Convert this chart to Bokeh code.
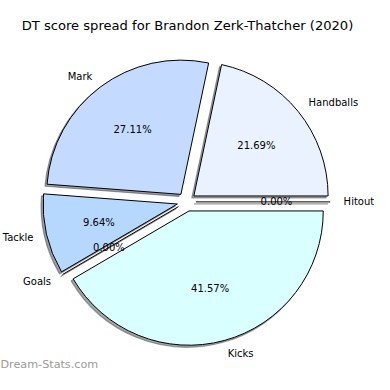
import numpy as np
from bokeh.plotting import figure
from bokeh.models import ColumnDataSource, Range1d
from bokeh.embed import file_html
from bokeh.resources import INLINE
from bokeh.core.properties import value

# ---- data ----
categories = ["Handballs", "Mark", "Tackle", "Goals", "Kicks", "Hitout"]
dt_points = [36, 45, 16, 0, 69, 0]
colors = ["#EBF2FF", "#C4DAFF", "#B6D8FF", "#C8E6FF", "#DAFFFF", "#E0E8FF"]
title_text = "DT score spread for Brandon Zerk-Thatcher (2020)"
watermark_text = "Dream-Stats.com"

# ---- style / layout constants ----
EXPLODE = 0.07
LABEL_R = 1.1
PCT_R = 0.6
SHADOW = 0.015
FONT = "DejaVu Sans"

vals = np.array(dt_points, dtype=float)
frac = vals / vals.sum()
ends = np.cumsum(frac) * 2 * np.pi
starts = ends - frac * 2 * np.pi
mids = (starts + ends) / 2
cx = EXPLODE * np.cos(mids)
cy = EXPLODE * np.sin(mids)


def shade(c):
    c = c.lstrip("#")
    r, g, b = (int(c[i:i + 2], 16) for i in (0, 2, 4))
    return "#%02x%02x%02x" % (int(r * 0.3), int(g * 0.3), int(b * 0.3))


shadow_colors = [shade(c) for c in colors]
nz = vals > 0
z = ~nz

p = figure(width=374, height=374, output_backend="svg", toolbar_location=None,
           x_range=Range1d(-194 / 140, 196 / 140), y_range=Range1d(-180 / 140, 210 / 140),
           min_border=0, outline_line_color=None,
           x_axis_location=None, y_axis_location=None)
p.grid.visible = False
p.background_fill_color = "white"
p.border_fill_color = "white"

# shadows
sh = ColumnDataSource(dict(x=cx[nz] - SHADOW, y=cy[nz] - SHADOW, s=starts[nz], e=ends[nz],
                           c=[shadow_colors[i] for i in np.where(nz)[0]]))
p.wedge(x="x", y="y", radius=1.0, start_angle="s", end_angle="e", source=sh,
        fill_color="c", fill_alpha=0.5, line_color="c", line_alpha=0.5, line_width=1.2)
shz = ColumnDataSource(dict(x0=cx[z] - SHADOW, y0=cy[z] - SHADOW,
                            x1=cx[z] - SHADOW + np.cos(starts[z]), y1=cy[z] - SHADOW + np.sin(starts[z])))
p.segment(x0="x0", y0="y0", x1="x1", y1="y1", source=shz, line_color="black", line_alpha=0.5, line_width=1)

# wedges
ws = ColumnDataSource(dict(x=cx[nz], y=cy[nz], s=starts[nz], e=ends[nz],
                           c=[colors[i] for i in np.where(nz)[0]]))
p.wedge(x="x", y="y", radius=1.0, start_angle="s", end_angle="e", source=ws,
        fill_color="c", line_color="black", line_width=1)
wz = ColumnDataSource(dict(x0=cx[z], y0=cy[z], x1=cx[z] + np.cos(starts[z]), y1=cy[z] + np.sin(starts[z])))
p.segment(x0="x0", y0="y0", x1="x1", y1="y1", source=wz, line_color="black", line_width=1)

# labels
lab = ColumnDataSource(dict(
    x=cx + LABEL_R * np.cos(mids), y=cy + LABEL_R * np.sin(mids), t=categories,
    a=["left" if np.cos(m) > 0 else "right" for m in mids]))
p.text(x="x", y="y", text="t", text_align="a", text_baseline="middle", source=lab,
       text_font=value(FONT), text_font_size="10px", text_color="black")

pct = ColumnDataSource(dict(
    x=cx + PCT_R * np.cos(mids), y=cy + PCT_R * np.sin(mids),
    t=["%.2f%%" % (f * 100) for f in frac]))
p.text(x="x", y="y", text="t", text_align="center", text_baseline="middle", source=pct,
       text_font=value(FONT), text_font_size="10px", text_color="black")

# title
p.text(x=[1 / 140], y=[184 / 140], text=[title_text], text_align="center", text_baseline="middle",
       text_font=value(FONT), text_font_size="13.1px", text_color="black")

# watermark
p.text(x=[-194 / 140], y=[-170 / 140], text=[watermark_text], text_align="left", text_baseline="middle",
       text_font=value(FONT), text_font_size="11.2px", text_color="#9a9a9a")

open("out.html", "w").write(file_html(p, INLINE))
